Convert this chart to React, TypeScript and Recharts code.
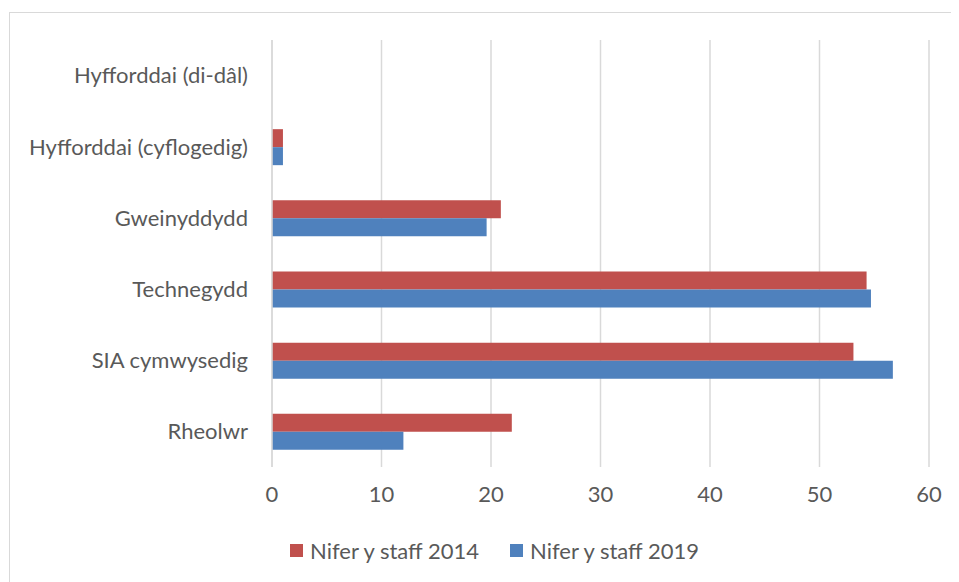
import React from "react";
import { BarChart, Bar, XAxis, YAxis, CartesianGrid, Legend } from "recharts";

const categories = [
  "Hyfforddai (di-dâl)",
  "Hyfforddai (cyflogedig)",
  "Gweinyddydd",
  "Technegydd",
  "SIA cymwysedig",
  "Rheolwr",
];
const staff2014 = [0, 1, 20.9, 54.3, 53.1, 21.9];
const staff2019 = [0, 1, 19.6, 54.7, 56.7, 12];
const xTicks = [0, 10, 20, 30, 40, 50, 60];

const seriesNames = ["Nifer y staff 2014", "Nifer y staff 2019"];
const seriesColors = ["#C0504D", "#4F81BD"];

const data = categories.map((name, i) => ({
  name,
  s2014: staff2014[i],
  s2019: staff2019[i],
}));

const FONT = "Lato, 'Noto Sans', sans-serif";
const TEXT = "#595959";

function LegendBox() {
  return (
    <div style={{ display: "flex", alignItems: "center", fontFamily: FONT, fontSize: 22, color: TEXT }}>
      {seriesNames.map((n, i) => (
        <div key={n} style={{ display: "flex", alignItems: "center", width: 220 }}>
          <span style={{ display: "inline-block", width: 13, height: 13, background: seriesColors[i], marginRight: 7 }} />
          <span>{n}</span>
        </div>
      ))}
    </div>
  );
}

export default function App() {
  return (
    <div style={{ position: "relative", width: 951, height: 574, overflow: "hidden", background: "#fff" }}>
      <div
        style={{
          position: "absolute",
          left: 1,
          top: 4,
          right: -10,
          bottom: -10,
          borderLeft: "1.5px solid #d9d9d9",
          borderTop: "1.5px solid #d9d9d9",
        }}
      />
      <BarChart
        width={951}
        height={574}
        data={data}
        layout="vertical"
        margin={{ top: 32, right: 30, left: 0, bottom: 65 }}
        barGap={0}
        barSize={18}
        style={{ position: "absolute", left: 0, top: 0 }}
      >
        <CartesianGrid horizontal={false} stroke="#d9d9d9" strokeWidth={1.5} />
        <XAxis
          type="number"
          domain={[0, 60]}
          ticks={xTicks}
          axisLine={false}
          tickLine={false}
          tickSize={0}
          tickMargin={19}
          height={50}
          tick={{ fill: TEXT, fontSize: 22, fontFamily: FONT }}
        />
        <YAxis
          type="category"
          dataKey="name"
          width={264}
          axisLine={{ stroke: "#d9d9d9", strokeWidth: 1.5 }}
          tickLine={false}
          tickSize={0}
          tickMargin={24}
          interval={0}
          tick={{ fill: TEXT, fontSize: 22, fontFamily: FONT }}
        />
        <Legend
          layout="horizontal"
          verticalAlign="middle"
          align="center"
          wrapperStyle={{ top: 529, left: 282, width: 460, height: 26 }}
          content={() => <LegendBox />}
        />
        <Bar dataKey="s2014" name={seriesNames[0]} fill={seriesColors[0]} isAnimationActive={false} />
        <Bar dataKey="s2019" name={seriesNames[1]} fill={seriesColors[1]} isAnimationActive={false} />
      </BarChart>
    </div>
  );
}
